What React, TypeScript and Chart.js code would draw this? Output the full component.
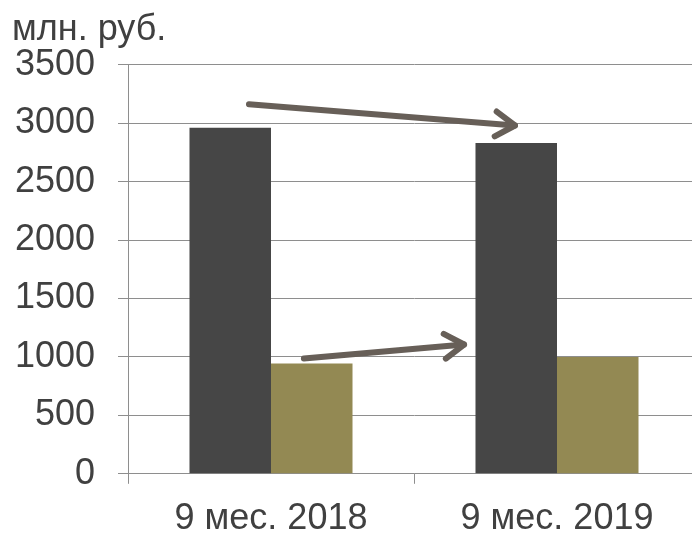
import React, { useEffect, useRef } from "react";
import { Chart, registerables } from "chart.js";

Chart.register(...registerables);

const categories = ["9 мес. 2018", "9 мес. 2019"];
const seriesDark = [2960, 2830];
const seriesOlive = [943, 1000];
const yTicks = [0, 500, 1000, 1500, 2000, 2500, 3000, 3500];
const unitLabel = "млн. руб.";
// arrows: [fromIndex, fromValue, toIndex, toValue]
const arrowTop = [-0.077, 3162, 0.853, 2980];
const arrowBottom = [0.115, 986, 0.675, 1106];

const FONT = "'Liberation Sans', Arial, sans-serif";
const TEXT = "#404040";
const GRID = "#8e8e8e";

const arrowPlugin = {
  id: "arrows",
  afterDatasetsDraw(chart: any) {
    const { ctx, scales } = chart;
    const xs = scales.x;
    const ys = scales.y;
    const draw = (a: number[]) => {
      const x1 = xs.getPixelForValue(a[0]);
      const y1 = ys.getPixelForValue(a[1]);
      const x2 = xs.getPixelForValue(a[2]);
      const y2 = ys.getPixelForValue(a[3]);
      const ang = Math.atan2(y2 - y1, x2 - x1);
      const len = 23;
      const spread = Math.PI / 5.5;
      ctx.save();
      ctx.strokeStyle = "#675f58";
      ctx.lineWidth = 6;
      ctx.lineCap = "round";
      ctx.lineJoin = "round";
      ctx.beginPath();
      ctx.moveTo(x1, y1);
      ctx.lineTo(x2, y2);
      ctx.stroke();
      ctx.beginPath();
      ctx.moveTo(x2 - len * Math.cos(ang - spread), y2 - len * Math.sin(ang - spread));
      ctx.lineTo(x2, y2);
      ctx.lineTo(x2 - len * Math.cos(ang + spread), y2 - len * Math.sin(ang + spread));
      ctx.stroke();
      ctx.restore();
    };
    draw(arrowTop);
    draw(arrowBottom);
  },
};

export default function App() {
  const ref = useRef<HTMLCanvasElement | null>(null);
  useEffect(() => {
    if (!ref.current) return;
    const chart = new Chart(ref.current, {
      type: "bar",
      data: {
        labels: categories,
        datasets: [
          { data: seriesDark, backgroundColor: "#464646", borderWidth: 0 },
          { data: seriesOlive, backgroundColor: "#938953", borderWidth: 0 },
        ],
      },
      options: {
        animation: false,
        responsive: true,
        maintainAspectRatio: false,
        layout: { padding: { left: 12, right: 0, top: 0, bottom: 0 } },
        datasets: { bar: { barPercentage: 1, categoryPercentage: 0.57 } },
        plugins: {
          legend: { display: false },
          tooltip: { enabled: false },
          title: {
            display: true,
            text: unitLabel,
            align: "start",
            color: TEXT,
            font: { family: FONT, size: 36, weight: "normal" },
            padding: { top: 8, bottom: 13.5 },
          },
        },
        scales: {
          x: {
            grid: {
              display: true,
              drawOnChartArea: false,
              drawTicks: true,
              tickLength: 10,
              color: GRID,
            },
            border: { display: true, color: GRID },
            ticks: {
              color: TEXT,
              font: { family: FONT, size: 36 },
              padding: 14,
              maxRotation: 0,
            },
          },
          y: {
            min: 0,
            max: 3500,
            afterBuildTicks(scale: any) {
              scale.ticks = yTicks.map((v) => ({ value: v }));
            },
            afterFit(scale: any) {
              scale.width = 116;
            },
            grid: { color: GRID, tickLength: 10 },
            border: { display: true, color: GRID },
            ticks: {
              color: TEXT,
              font: { family: FONT, size: 36 },
              padding: 23,
              callback: (v: any) => String(v),
            },
          },
        },
      },
      plugins: [arrowPlugin],
    });
    return () => chart.destroy();
  }, []);
  return (
    <div
      style={{
        position: "fixed",
        left: 0,
        top: 0,
        width: 692,
        height: 533,
        overflow: "hidden",
        background: "#fff",
      }}
    >
      <div style={{ position: "relative", width: 700, height: 555 }}>
        <canvas ref={ref} />
      </div>
    </div>
  );
}
